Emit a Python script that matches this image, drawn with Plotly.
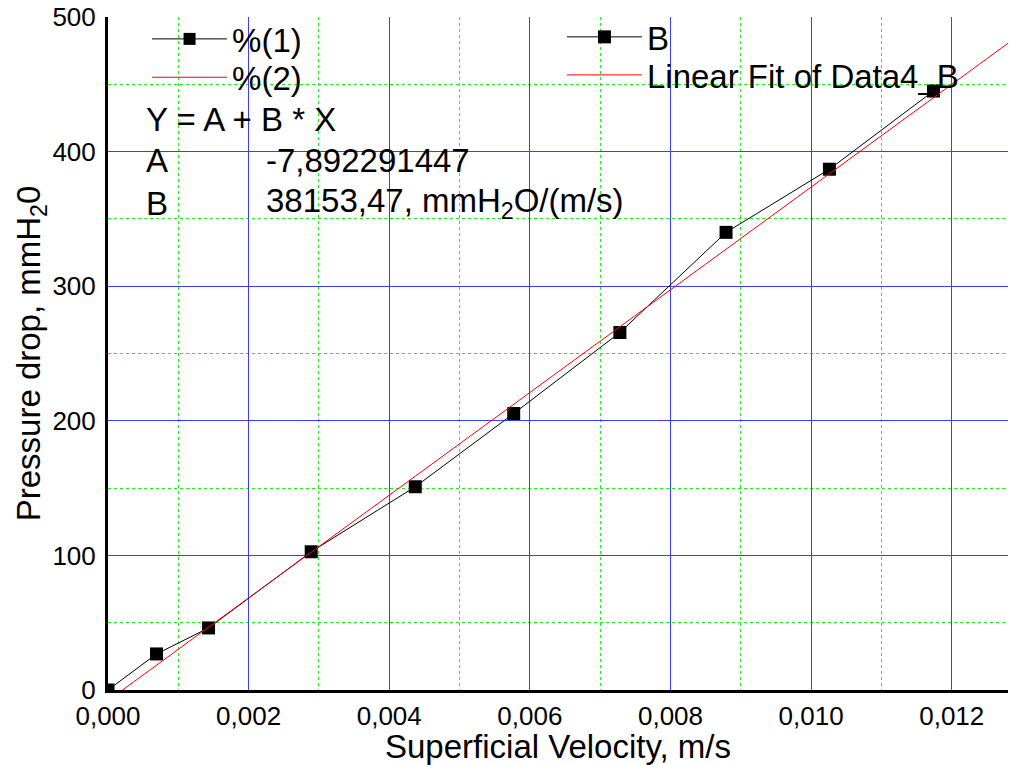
import plotly.graph_objects as go

# Data
velocity = [0.0, 0.00069, 0.00143, 0.00289, 0.00437, 0.00577, 0.00728, 0.00879, 0.01026, 0.01174]
pressure = [0.0, 26.8, 46.1, 102.7, 151.0, 205.4, 265.6, 340.0, 386.9, 445.0]

# Linear fit parameters (as printed on the chart)
FIT_A = -7.892291447
FIT_B = 38153.47
fit_x = [0.0, 0.0128]
fit_y = [FIT_A + FIT_B * x for x in fit_x]

x_ticks = [0.0, 0.002, 0.004, 0.006, 0.008, 0.010, 0.012]
x_minor = [0.001, 0.003, 0.005, 0.007, 0.009, 0.011]
y_ticks = [0, 100, 200, 300, 400, 500]
y_minor = [50, 150, 250, 350, 450]

FONT = "Liberation Sans, Arial, sans-serif"
BLUE = "#3c3cff"
GREEN = "#22ee22"

fig = go.Figure()

# Entries of the first legend box
fig.add_trace(go.Scatter(x=[None], y=[None], mode="lines+markers", name="%(1)",
                         line=dict(color="black", width=1),
                         marker=dict(symbol="square", size=12, color="black"),
                         legend="legend"))
fig.add_trace(go.Scatter(x=[None], y=[None], mode="lines", name="%(2)",
                         line=dict(color="red", width=1), legend="legend2"))

# Real traces
fig.add_trace(go.Scatter(x=velocity, y=pressure, mode="lines+markers", name="B",
                         line=dict(color="black", width=1),
                         marker=dict(symbol="square", size=13, color="black"),
                         legend="legend3"))
fig.add_trace(go.Scatter(x=fit_x, y=fit_y, mode="lines", name="Linear Fit of Data4_B",
                         line=dict(color="red", width=1), legend="legend4"))

ann_font = dict(family=FONT, size=33, color="black")
annotations = [
    dict(text="Y = A + B * X", x=0.04, y=0.847),
    dict(text="A", x=0.04, y=0.7875),
    dict(text="-7,892291447", x=0.1733, y=0.7875),
    dict(text="B", x=0.04, y=0.7236),
    dict(text="38153,47, mmH<sub>2</sub>O/(m/s)", x=0.1733, y=0.7236),
]
for a in annotations:
    a.update(xref="paper", yref="paper", xanchor="left", yanchor="middle",
             showarrow=False, font=ann_font)

def leg(x, y):
    return dict(x=x, y=y, xanchor="left", yanchor="top",
                bgcolor="rgba(0,0,0,0)", font=dict(family=FONT, size=33),
                itemwidth=75, tracegroupgap=0)

fig.update_layout(
    width=1010, height=765,
    margin=dict(l=108, r=2, t=17, b=75, autoexpand=False),
    paper_bgcolor="white", plot_bgcolor="white",
    separators=", ",
    font=dict(family=FONT, color="black"),
    showlegend=True,
    legend=leg(0.0434, 1.009),
    legend2=leg(0.0434, 0.952),
    legend3=leg(0.5044, 1.012),
    legend4=leg(0.5044, 0.9555),
    annotations=annotations,
)

fig.update_xaxes(
    range=[0, 0.0128], tickvals=x_ticks, tickformat=".3f",
    showline=True, linecolor="black", linewidth=3,
    showgrid=True, gridcolor=BLUE, gridwidth=1,
    zeroline=False, ticks="", tickfont=dict(size=26), automargin=False,
    ticklabelstandoff=1, ticklabeloverflow="allow",
    minor=dict(tickvals=x_minor, showgrid=True, gridcolor=GREEN, griddash="dot", gridwidth=1),
    title=dict(text="Superficial Velocity, m/s", font=dict(size=33), standoff=1),
)
fig.update_yaxes(
    range=[0, 500], tickvals=y_ticks,
    showline=True, linecolor="black", linewidth=3,
    showgrid=True, gridcolor=BLUE, gridwidth=1,
    zeroline=False, ticks="", tickfont=dict(size=26), automargin=False,
    ticklabelstandoff=4, ticklabeloverflow="allow",
    minor=dict(tickvals=y_minor, showgrid=True, gridcolor=GREEN, griddash="dot", gridwidth=1),
    title=dict(text="Pressure drop, mmH<sub>2</sub>0", font=dict(size=33), standoff=0),
)

fig.write_html("out.html", config={"displayModeBar": False},
               post_script="document.body.style.margin='0';")
